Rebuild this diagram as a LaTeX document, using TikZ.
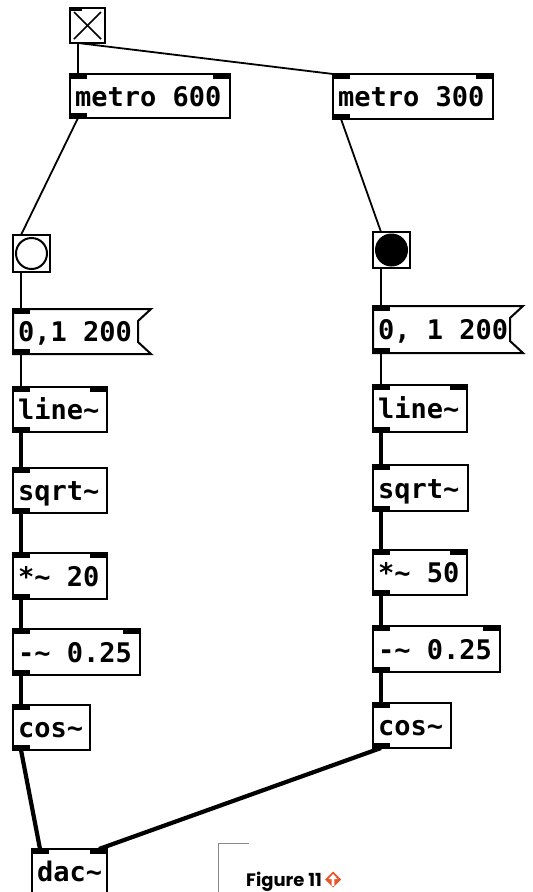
\documentclass[tikz,border=0pt]{standalone}
\usepackage{fontspec}
\newfontfamily\pdfont{DejaVu Sans Mono}
\newfontfamily\capfont{Poppins}
\usetikzlibrary{calc}
\definecolor{capgray}{HTML}{8A8A8A}
\definecolor{iconred}{HTML}{E9552B}
\newcommand\pdnode[6]{%
  \node[pdbox, minimum width=#4pt, minimum height=#5pt] (#1) at (#2,#3) {};
  \node[pdlabel] (#1-t) at ($(#1.west)+(5,10)$) {#6};
  \coordinate (#1-i) at ($(#1.north west)+(8,0)$);
  \coordinate (#1-o) at ($(#1.south west)+(8,0)$);
  \coordinate (#1-r) at ($(#1.north east)+(-8,0)$);}
\newcommand\pdmsgnode[6]{%
  \node[pdbox, draw=none, minimum width=#4pt, minimum height=#5pt] (#1) at (#2,#3) {};
  \draw[line width=2pt, line join=miter] (#1.north west) -- ($(#1.north east)+(13,0)$) -- ($(#1.north east)+(0,12)$)
     -- ($(#1.south east)+(0,-12)$) -- ($(#1.south east)+(13,0)$) -- (#1.south west) -- cycle;
  \node[pdlabel] (#1-t) at ($(#1.west)+(5,10)$) {#6};
  \coordinate (#1-i) at ($(#1.north west)+(8,0)$);
  \coordinate (#1-o) at ($(#1.south west)+(8,0)$);}
\newcommand\pdinl[1]{\fill (#1.north west) rectangle ++(17,5);}
\newcommand\pdinr[1]{\fill (#1.north east) rectangle ++(-17,5);}
\newcommand\pdoutl[1]{\fill (#1.south west) rectangle ++(17,-5);}
\begin{document}
\begin{tikzpicture}[x=1pt,y=-1pt,
  pdbox/.style={draw, line width=2pt, anchor=north west, inner sep=0pt, outer sep=0pt},
  pdlabel/.style={anchor=base west, inner sep=0pt, font=\pdfont\bfseries\fontsize{27}{27}\selectfont},
  ctl/.style={line width=1.8pt},
  sig/.style={line width=4.2pt}]
\useasboundingbox (0,0) rectangle (533,892);
\clip (0,0) rectangle (533,892);
\fill[white] (0,0) rectangle (533,892);

% toggle
\node[pdbox, minimum width=35pt, minimum height=35pt] (tog) at (70,8) {};
\draw[line width=1.6pt] ($(tog.north west)+(4,4)$) -- ($(tog.south east)+(-4,-4)$);
\draw[line width=1.6pt] ($(tog.north east)+(-4,4)$) -- ($(tog.south west)+(4,-4)$);
\coordinate (tog-o) at ($(tog.south west)+(8,0)$);
\fill (tog.north west) rectangle ++(12,3);

% metros
\pdnode{m600}{70}{74}{160}{44}{metro 600}
\pdnode{m300}{333}{74}{160}{45}{metro 300}
\pdinl{m600}\pdinr{m600}\pdoutl{m600}
\pdinl{m300}\pdinr{m300}\pdoutl{m300}

% bangs
\node[pdbox, minimum width=37pt, minimum height=37pt] (b1) at (13,235) {};
\draw[line width=2pt, fill=white] (b1.center) circle (15.5);
\coordinate (b1-i) at ($(b1.north west)+(8,0)$);
\coordinate (b1-o) at ($(b1.south west)+(8,0)$);
\node[pdbox, minimum width=37pt, minimum height=36pt] (b2) at (373,232) {};
\draw[line width=2pt, fill=black] (b2.center) circle (15.5);
\coordinate (b2-i) at ($(b2.north west)+(8,0)$);
\coordinate (b2-o) at ($(b2.south west)+(8,0)$);

% messages
\pdmsgnode{msg1}{13}{309}{125}{45}{0,1 200}
\pdmsgnode{msg2}{373}{306}{137}{47}{0, 1 200}
\pdinl{msg1}\pdoutl{msg1}
\pdinl{msg2}\pdoutl{msg2}

% left chain
\pdnode{line1}{13}{387}{94}{45}{line\char`\~}
\pdnode{sqrt1}{13}{468}{94}{45}{sqrt\char`\~}
\pdnode{mul1}{13}{553}{94}{46}{*\char`\~{} 20}
\pdnode{sub1}{13}{629}{127}{46}{-\char`\~{} 0.25}
\pdnode{cos1}{13}{705}{77}{45}{cos\char`\~}
% right chain
\pdnode{line2}{373}{385}{94}{47}{line\char`\~}
\pdnode{sqrt2}{373}{465}{95}{46}{sqrt\char`\~}
\pdnode{mul2}{373}{550}{94}{45}{*\char`\~{} 50}
\pdnode{sub2}{373}{626}{127}{46}{-\char`\~{} 0.25}
\pdnode{cos2}{373}{703}{78}{45}{cos\char`\~}
% dac
\pdnode{dac}{32}{849}{75}{45}{dac\char`\~}

\pdinl{line1}\pdinr{line1}\pdoutl{line1}
\pdinl{sqrt1}\pdoutl{sqrt1}
\pdinl{mul1}\pdinr{mul1}\pdoutl{mul1}
\pdinl{sub1}\pdinr{sub1}\pdoutl{sub1}
\pdinl{cos1}\pdoutl{cos1}
\pdinl{line2}\pdinr{line2}\pdoutl{line2}
\pdinl{sqrt2}\pdoutl{sqrt2}
\pdinl{mul2}\pdinr{mul2}\pdoutl{mul2}
\pdinl{sub2}\pdinr{sub2}\pdoutl{sub2}
\pdinl{cos2}\pdoutl{cos2}
\pdinl{dac}\pdinr{dac}

% control connections
\draw[ctl] (tog-o) -- (m600-i);
\draw[ctl] (tog-o) -- (m300.north west);
\draw[ctl] (m600-o) -- (b1-i);
\draw[ctl] (m300-o) -- (b2-i);
\draw[ctl] (b1-o) -- (msg1-i);
\draw[ctl] (b2-o) -- (msg2-i);
\draw[ctl] (msg1-o) -- (line1-i);
\draw[ctl] (msg2-o) -- (line2-i);
% signal connections
\draw[sig] (line1-o) -- (sqrt1-i);
\draw[sig] (sqrt1-o) -- (mul1-i);
\draw[sig] (mul1-o) -- (sub1-i);
\draw[sig] (sub1-o) -- (cos1-i);
\draw[sig] (line2-o) -- (sqrt2-i);
\draw[sig] (sqrt2-o) -- (mul2-i);
\draw[sig] (mul2-o) -- (sub2-i);
\draw[sig] (sub2-o) -- (cos2-i);
\draw[sig] (cos1-o) -- (dac-i);
\draw[sig] (cos2-o) -- (dac-r);

% caption
\draw[capgray, line width=1pt] (249,843) -- (218,843) -- (218,892);
\node[anchor=base west, inner sep=0pt, font=\capfont\bfseries\fontsize{18}{18}\selectfont] (cap) at (246,886) {Figure 11};
\coordinate (ic) at ($(cap.base east)+(11,-6.5)$);
\fill[iconred] ($(ic)+(0,-8)$) -- ($(ic)+(8,0)$) -- ($(ic)+(0,8)$) -- ($(ic)+(-8,0)$) -- cycle;
\fill[white] ($(ic)+(0,-5.5)$) -- ($(ic)+(4.5,-0.5)$) -- ($(ic)+(1.4,-0.5)$) -- ($(ic)+(1.4,6.5)$) -- ($(ic)+(-1.4,6.5)$) -- ($(ic)+(-1.4,-0.5)$) -- ($(ic)+(-4.5,-0.5)$) -- cycle;
\end{tikzpicture}
\end{document}
